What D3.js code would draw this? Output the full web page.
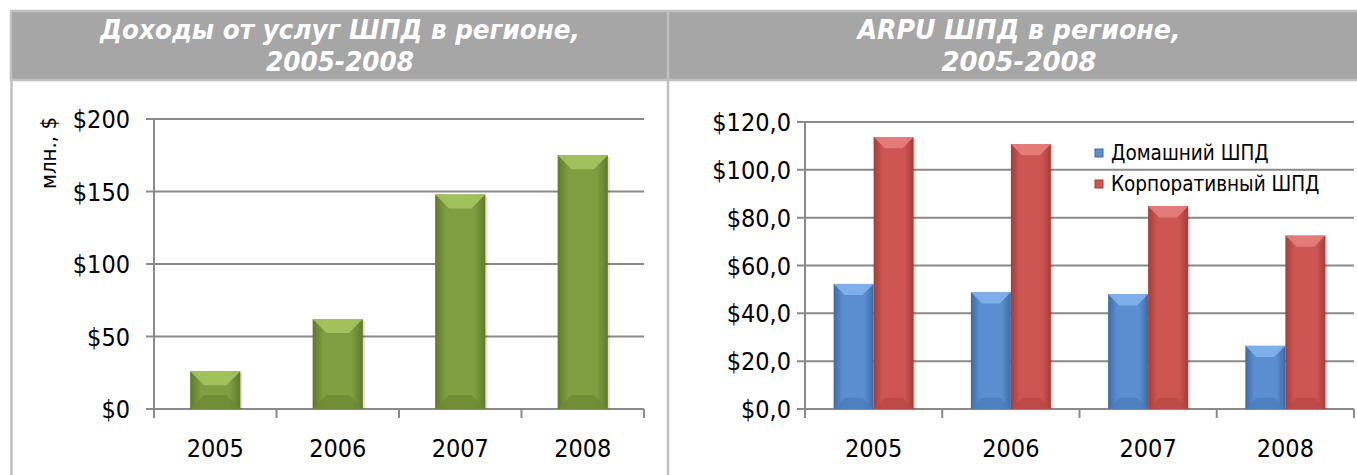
<!DOCTYPE html>
<html>
<head>
<meta charset="utf-8">
<script src="https://cdn.jsdelivr.net/npm/d3@7/dist/d3.min.js"></script>
<style>
  html, body { margin: 0; padding: 0; background: #ffffff; }
  svg { display: block; }
  text { font-family: "DejaVu Sans Condensed", "DejaVu Sans", sans-serif; }
</style>
</head>
<body>
<svg id="chart" width="1357" height="475"></svg>
<script>
// ---- data ----
const years = ["2005", "2006", "2007", "2008"];
const revenue = [26, 62, 148, 175];
const homeArpu = [52.3, 48.8, 48.0, 26.4];
const corpArpu = [113.7, 110.8, 84.8, 72.5];
const leftTicks = [0, 50, 100, 150, 200];
const rightTicks = [0, 20, 40, 60, 80, 100, 120];
const seriesNames = ["Домашний ШПД", "Корпоративный ШПД"];
const leftTitle = ["Доходы от услуг ШПД в регионе,", "2005-2008"];
const rightTitle = ["ARPU ШПД в регионе,", "2005-2008"];
const leftAxisLabel = "млн., $";

const svg = d3.select("#chart");
const defs = svg.append("defs");

// ---- frame ----
const borderCol = "#c0c0c0";
svg.append("rect").attr("x", 11).attr("y", 11).attr("width", 1350).attr("height", 69)
  .attr("fill", "#a6a6a6").attr("stroke", borderCol).attr("stroke-width", 2.5);
svg.append("line").attr("x1", 11.5).attr("x2", 11.5).attr("y1", 80).attr("y2", 475)
  .attr("stroke", borderCol).attr("stroke-width", 2.5);
svg.append("line").attr("x1", 668).attr("x2", 668).attr("y1", 11).attr("y2", 475)
  .attr("stroke", borderCol).attr("stroke-width", 2.5);

function title(lines, cx, widths) {
  const g = svg.append("g");
  lines.forEach((t, i) => {
    g.append("text").attr("x", cx).attr("y", 39 + i * 32)
      .attr("text-anchor", "middle")
      .attr("fill", "#ffffff")
      .attr("font-size", 26).attr("font-weight", "bold").attr("font-style", "italic")
      .attr("textLength", widths[i]).attr("lengthAdjust", "spacingAndGlyphs")
      .text(t);
  });
}
title(leftTitle, 340, [480, 148]);
title(rightTitle, 1019, [323, 155]);

// ---- gradients for bevelled bars ----
function makeGrad(id, edge, mid) {
  const g = defs.append("linearGradient").attr("id", id)
    .attr("x1", "0").attr("x2", "1").attr("y1", "0").attr("y2", "0");
  g.append("stop").attr("offset", "0%").attr("stop-color", edge);
  g.append("stop").attr("offset", "22%").attr("stop-color", mid);
  g.append("stop").attr("offset", "78%").attr("stop-color", mid);
  g.append("stop").attr("offset", "100%").attr("stop-color", edge);
}
const palettes = {
  green: { edge: "#5f7a2a", mid: "#7f9e41", top: "#a4c45f", bottom: "#6d8a33" },
  blue:  { edge: "#3d6aa3", mid: "#5a8ed0", top: "#82b2ec", bottom: "#4b7cba" },
  red:   { edge: "#a53c39", mid: "#cd5552", top: "#e6807d", bottom: "#b84946" }
};
Object.entries(palettes).forEach(([k, p]) => makeGrad("g_" + k, p.edge, p.mid));

function bevelBar(g, x, y, w, h, pal) {
  const p = palettes[pal];
  const b = Math.min(w * 0.28, h / 2, 14);
  g.append("rect").attr("x", x).attr("y", y).attr("width", w).attr("height", h)
    .attr("fill", "url(#g_" + pal + ")");
  g.append("polygon")
    .attr("points", [[x, y], [x + w, y], [x + w - b, y + b], [x + b, y + b]].map(d => d.join(",")).join(" "))
    .attr("fill", p.top).attr("opacity", 0.9);
  g.append("polygon")
    .attr("points", [[x, y + h], [x + w, y + h], [x + w - b, y + h - b], [x + b, y + h - b]].map(d => d.join(",")).join(" "))
    .attr("fill", p.bottom).attr("opacity", 0.8);
  g.append("rect").attr("x", x + w).attr("y", y + 2).attr("width", 2).attr("height", h - 2)
    .attr("fill", "#000").attr("opacity", 0.12);
}

const gridCol = "#8a8a8a";
const tickFont = 25;

// ---- left chart ----
const xL = d3.scaleBand().domain(years).range([154, 644]).paddingInner(0.59).paddingOuter(0.295);
const yL = d3.scaleLinear().domain([0, 200]).range([409, 119]);
const gl = svg.append("g");

gl.selectAll("line.grid").data(leftTicks).join("line")
  .attr("x1", 146).attr("x2", 644).attr("y1", d => yL(d)).attr("y2", d => yL(d))
  .attr("stroke", gridCol).attr("stroke-width", 2);
gl.append("line").attr("x1", 154).attr("x2", 154).attr("y1", yL(200)).attr("y2", 418)
  .attr("stroke", gridCol).attr("stroke-width", 2);
const leftBounds = years.map(y => xL(y) - xL.step() * xL.paddingInner() / 2).concat([644]);
gl.selectAll("line.xt").data(leftBounds).join("line")
  .attr("x1", d => d).attr("x2", d => d).attr("y1", 409).attr("y2", 418)
  .attr("stroke", gridCol).attr("stroke-width", 2);

gl.selectAll("text.yl").data(leftTicks).join("text")
  .attr("x", 130).attr("y", d => yL(d)).attr("dy", "0.36em")
  .attr("text-anchor", "end").attr("font-size", tickFont).attr("fill", "#000")
  .text(d => "$" + d);
gl.selectAll("text.xl").data(years).join("text")
  .attr("x", d => xL(d) + xL.bandwidth() / 2).attr("y", 457)
  .attr("text-anchor", "middle").attr("font-size", tickFont).attr("fill", "#000")
  .text(d => d);
gl.append("text").attr("transform", "translate(56,153) rotate(-90)")
  .attr("text-anchor", "middle").attr("font-size", 22).attr("fill", "#000")
  .text(leftAxisLabel);

years.forEach((yr, i) => {
  bevelBar(gl, xL(yr), yL(revenue[i]), xL.bandwidth(), yL(0) - yL(revenue[i]), "green");
});

// ---- right chart ----
const xR = d3.scaleBand().domain(years).range([805, 1354]).paddingInner(0.417).paddingOuter(0.2085);
const xR1 = d3.scaleBand().domain([0, 1]).range([0, xR.bandwidth()]);
const yR = d3.scaleLinear().domain([0, 120]).range([409, 122]);
const gr = svg.append("g");

gr.selectAll("line.grid").data(rightTicks).join("line")
  .attr("x1", 797).attr("x2", 1354).attr("y1", d => yR(d)).attr("y2", d => yR(d))
  .attr("stroke", gridCol).attr("stroke-width", 2);
gr.append("line").attr("x1", 805).attr("x2", 805).attr("y1", yR(120)).attr("y2", 418)
  .attr("stroke", gridCol).attr("stroke-width", 2);
const rightBounds = years.map(y => xR(y) - xR.step() * xR.paddingInner() / 2).concat([1354]);
gr.selectAll("line.xt").data(rightBounds).join("line")
  .attr("x1", d => d).attr("x2", d => d).attr("y1", 409).attr("y2", 418)
  .attr("stroke", gridCol).attr("stroke-width", 2);

const fmtR = d => "$" + d.toFixed(1).replace(".", ",");
gr.selectAll("text.yl").data(rightTicks).join("text")
  .attr("x", 791).attr("y", d => yR(d)).attr("dy", "0.36em")
  .attr("text-anchor", "end").attr("font-size", tickFont).attr("fill", "#000")
  .text(fmtR);
gr.selectAll("text.xl").data(years).join("text")
  .attr("x", d => xR(d) + xR.bandwidth() / 2).attr("y", 457)
  .attr("text-anchor", "middle").attr("font-size", tickFont).attr("fill", "#000")
  .text(d => d);

years.forEach((yr, i) => {
  const x0 = xR(yr);
  bevelBar(gr, x0 + xR1(0), yR(homeArpu[i]), xR1.bandwidth(), yR(0) - yR(homeArpu[i]), "blue");
  bevelBar(gr, x0 + xR1(1), yR(corpArpu[i]), xR1.bandwidth(), yR(0) - yR(corpArpu[i]), "red");
});

// legend
const legend = gr.append("g");
const legCols = ["blue", "red"];
seriesNames.forEach((name, i) => {
  const y = 153 + i * 31;
  const p = palettes[legCols[i]];
  legend.append("rect").attr("x", 1095).attr("y", y - 4).attr("width", 8).attr("height", 8)
    .attr("fill", p.mid).attr("stroke", p.edge).attr("stroke-width", 1);
  legend.append("text").attr("x", 1111).attr("y", y).attr("dy", "0.36em")
    .attr("font-size", 20.5).attr("fill", "#000").text(name);
});
</script>
</body>
</html>
